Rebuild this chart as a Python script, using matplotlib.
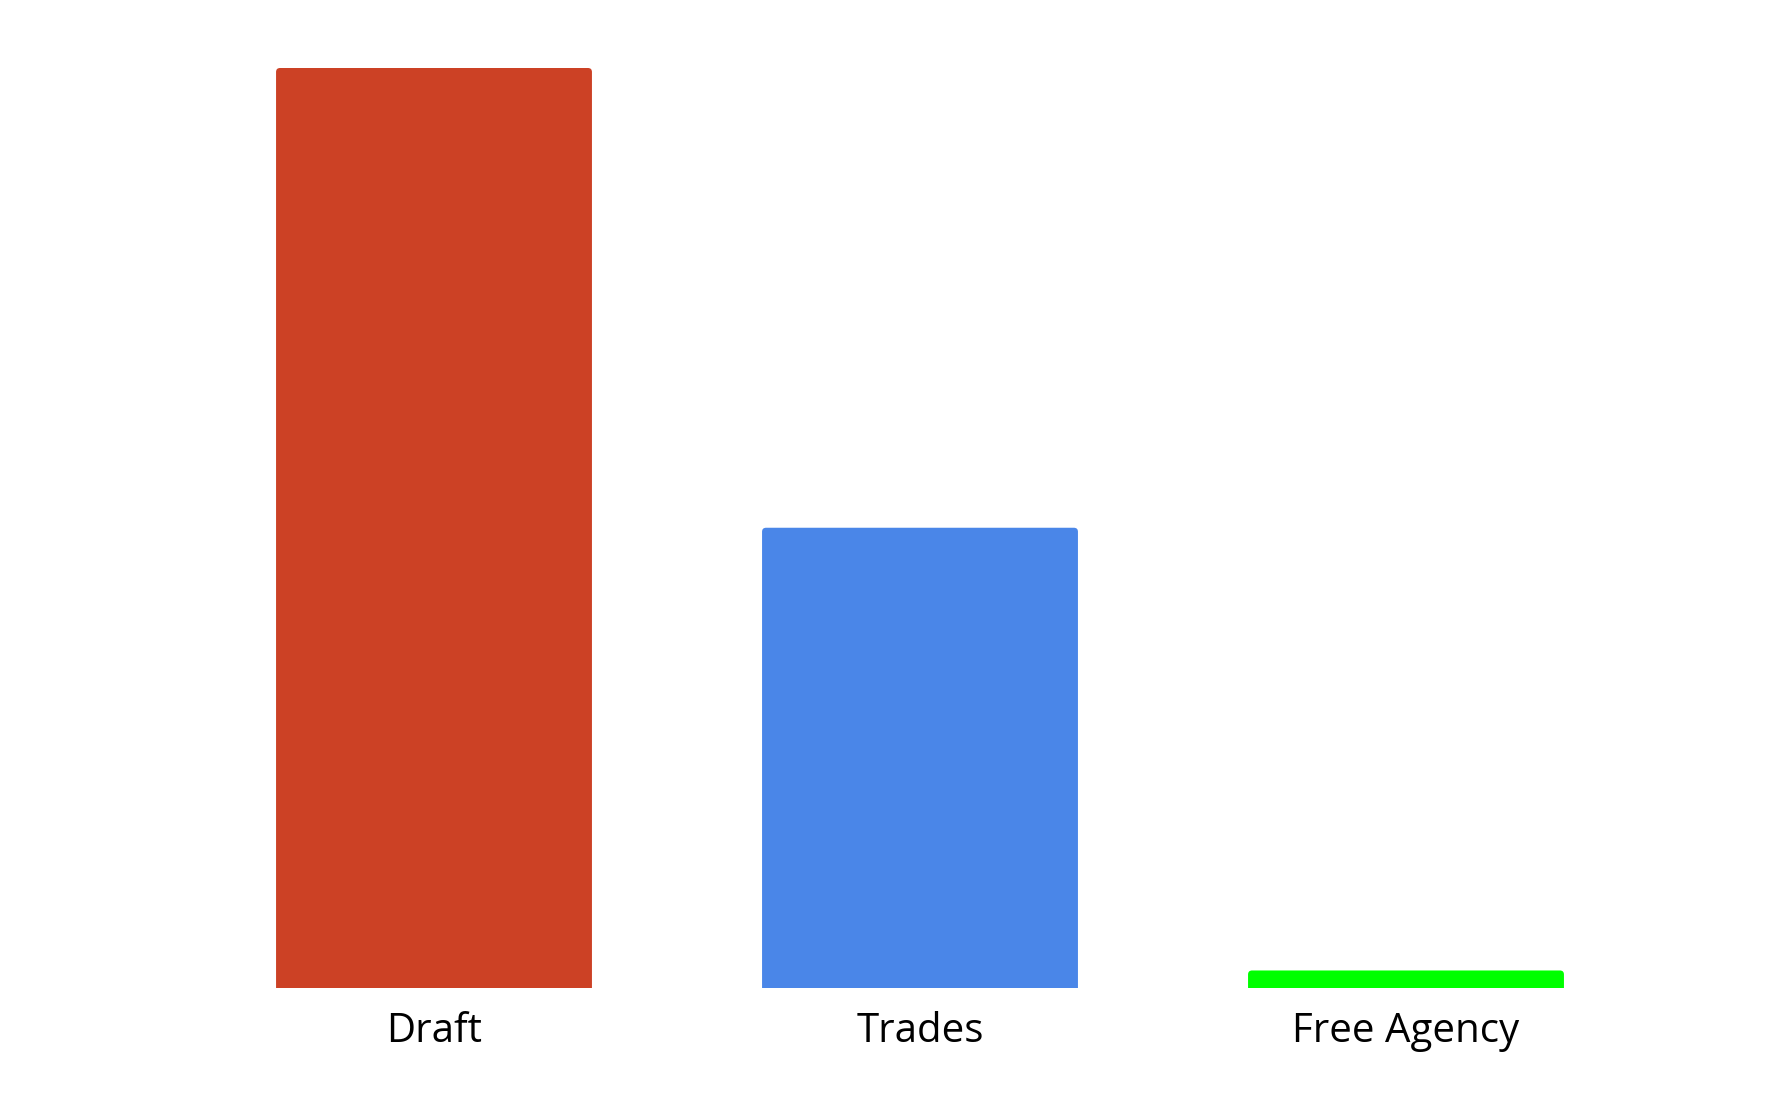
import matplotlib
matplotlib.use("Agg")
import matplotlib.pyplot as plt
from matplotlib.patches import FancyBboxPatch

categories = ["Draft", "Trades", "Free Agency"]
values = [54, 27, 1]
colors = ["#cc4125", "#4a86e8", "#00ff00"]

W, H = 1788, 1104
fig = plt.figure(figsize=(W / 100, H / 100), dpi=100)
ax_w_px, ax_h_px = 1649 - 191, 987.5 - 68
ax = fig.add_axes([191 / W, 116.5 / H, ax_w_px / W, ax_h_px / H])

ax.set_xlim(-0.5, len(categories) - 0.5)
ax.set_ylim(0, max(values))
bars = ax.bar(range(len(categories)), values, width=0.65, color=colors, linewidth=0)

# rounded top corners (~4 px)
xpp = (len(categories)) / ax_w_px
ypp = max(values) / ax_h_px
r = 4 * xpp
for b in bars:
    x, y, w, h = b.get_x(), b.get_y(), b.get_width(), b.get_height()
    ext = 6 * ypp
    p = FancyBboxPatch((x, y - ext), w, h + ext,
                       boxstyle=f"round,pad=0,rounding_size={r}",
                       mutation_aspect=ypp / xpp,
                       facecolor=b.get_facecolor(), linewidth=0)
    b.set_visible(False)
    ax.add_patch(p)

ax.set_xticks(range(len(categories)))
ax.set_xticklabels(categories, fontsize=29, family=["Open Sans", "DejaVu Sans"])
ax.tick_params(axis="x", length=0, pad=17)
ax.set_yticks([])
for s in ax.spines.values():
    s.set_visible(False)

fig.savefig("out.png", dpi=100, facecolor="white")
